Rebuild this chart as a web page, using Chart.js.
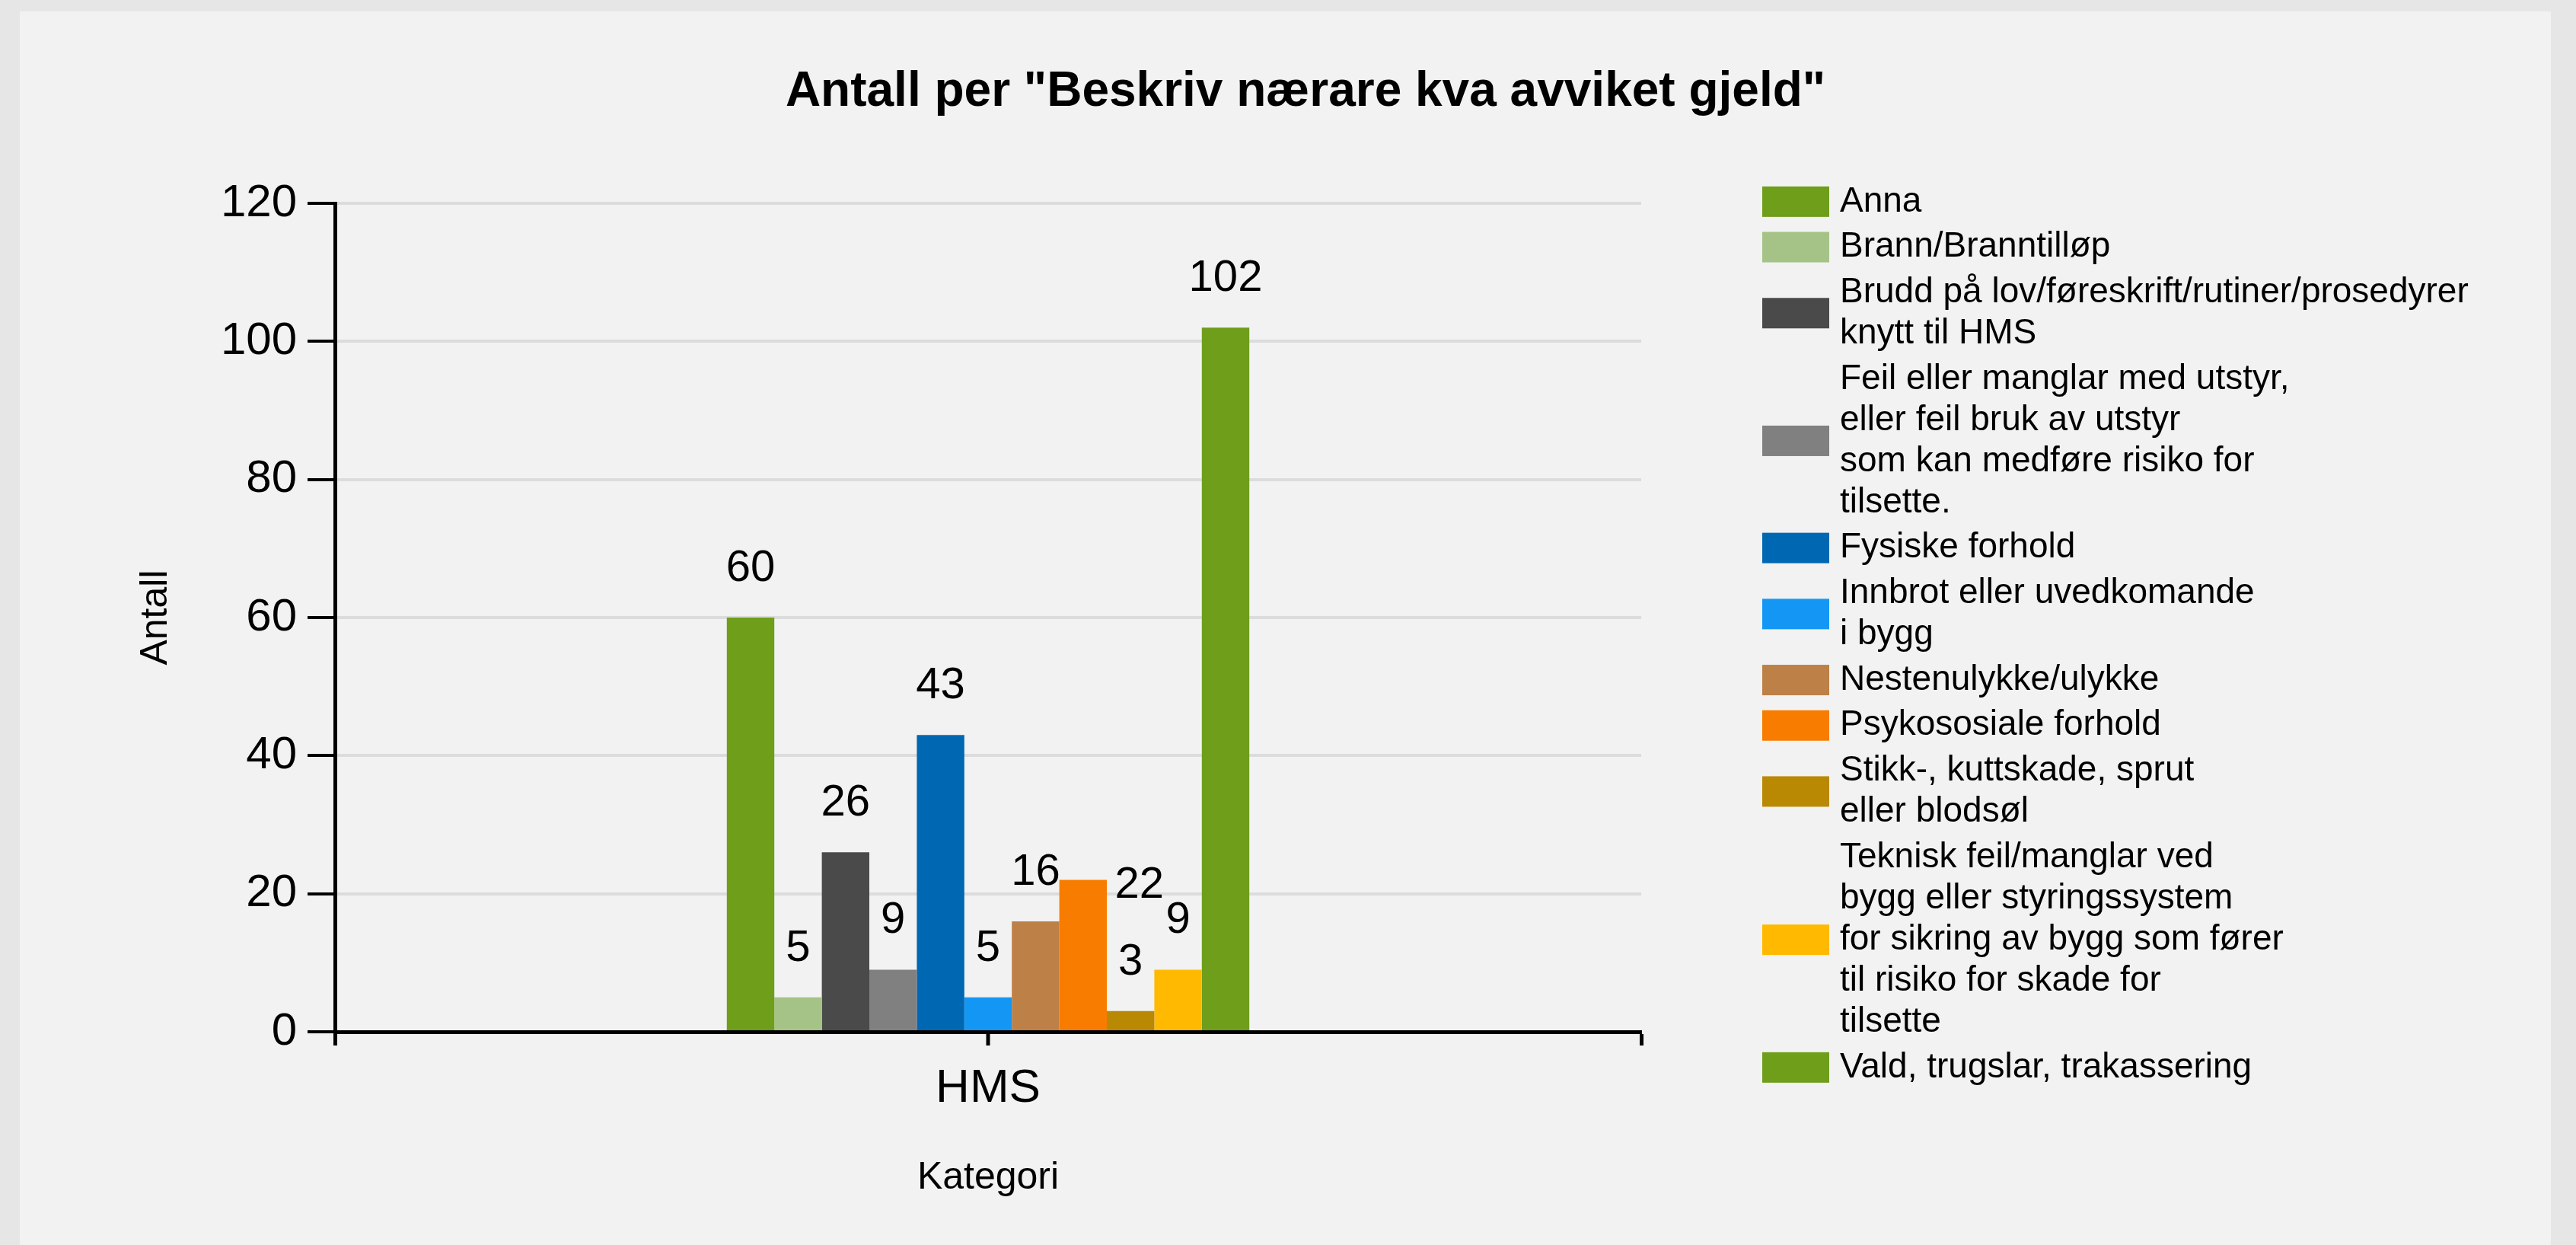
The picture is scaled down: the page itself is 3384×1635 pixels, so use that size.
<!DOCTYPE html>
<html>
<head>
<meta charset="utf-8">
<script src="https://cdn.jsdelivr.net/npm/chart.js@4.4.0/dist/chart.umd.min.js"></script>
<style>
  html, body { margin: 0; padding: 0; background: #e6e6e6; }
  #wrap { position: absolute; left: 26px; top: 15px; width: 3325px; height: 1620px; background: #f2f2f2; }
  canvas { display: block; }
</style>
</head>
<body>
<div id="wrap"><canvas id="avvikChart"></canvas></div>
<script>
const categories = ["HMS"];

const seriesNames = [
  "Anna",
  "Brann/Branntilløp",
  "Brudd på lov/føreskrift/rutiner/prosedyrer knytt til HMS",
  "Feil eller manglar med utstyr, eller feil bruk av utstyr som kan medføre risiko for tilsette.",
  "Fysiske forhold",
  "Innbrot eller uvedkomande i bygg",
  "Nestenulykke/ulykke",
  "Psykososiale forhold",
  "Stikk-, kuttskade, sprut eller blodsøl",
  "Teknisk feil/manglar ved bygg eller styringssystem for sikring av bygg som fører til risiko for skade for tilsette",
  "Vald, trugslar, trakassering"
];

const seriesValues = [60, 5, 26, 9, 43, 5, 16, 22, 3, 9, 102];

const seriesColors = [
  "#6e9e1a", "#a5c386", "#4a4a4a", "#808080", "#0068b3", "#1497f4",
  "#bd8046", "#f77c00", "#b98903", "#ffb900", "#6e9e1a"
];

const legendLines = [
  ["Anna"],
  ["Brann/Branntilløp"],
  ["Brudd på lov/føreskrift/rutiner/prosedyrer", "knytt til HMS"],
  ["Feil eller manglar med utstyr,", "eller feil bruk av utstyr", "som kan medføre risiko for", "tilsette."],
  ["Fysiske forhold"],
  ["Innbrot eller uvedkomande", "i bygg"],
  ["Nestenulykke/ulykke"],
  ["Psykososiale forhold"],
  ["Stikk-, kuttskade, sprut", "eller blodsøl"],
  ["Teknisk feil/manglar ved", "bygg eller styringssystem", "for sikring av bygg som fører", "til risiko for skade for", "tilsette"],
  ["Vald, trugslar, trakassering"]
];

const yMin = 0;
const yMax = 120;
const yStep = 20;

const FONT = '"Liberation Sans", Arial, sans-serif';

const chartTitlePlugin = {
  id: "chartTitle",
  afterDraw(chart, args, opts) {
    const { ctx } = chart;
    ctx.save();
    ctx.font = `bold ${opts.size}px ${FONT}`;
    ctx.fillStyle = "#000";
    ctx.textAlign = "center";
    ctx.textBaseline = "alphabetic";
    ctx.fillText(opts.text, opts.x, opts.y);
    ctx.restore();
  }
};

const sideLegendPlugin = {
  id: "sideLegend",
  afterDraw(chart, args, opts) {
    const { ctx } = chart;
    let y = opts.top;
    ctx.save();
    ctx.font = `${opts.size}px ${FONT}`;
    ctx.textAlign = "left";
    ctx.textBaseline = "middle";
    chart.data.datasets.forEach((ds, i) => {
      const lines = legendLines[i];
      const h = lines.length * opts.lineHeight + opts.gap;
      const cy = y + h / 2;
      ctx.fillStyle = ds.backgroundColor;
      ctx.fillRect(opts.boxX, cy - opts.boxH / 2, opts.boxW, opts.boxH);
      ctx.fillStyle = "#000";
      lines.forEach((line, j) => {
        ctx.fillText(line, opts.textX, cy + (j - (lines.length - 1) / 2) * opts.lineHeight);
      });
      y += h;
    });
    ctx.restore();
  }
};

const valueLabelPlugin = {
  id: "valueLabels",
  afterDatasetsDraw(chart, args, opts) {
    const { ctx, chartArea, scales } = chart;
    ctx.save();
    // centre tick under the category
    ctx.strokeStyle = "#000";
    ctx.lineWidth = 5;
    const cx = scales.x.getPixelForValue(0);
    ctx.beginPath();
    ctx.moveTo(cx, chartArea.bottom);
    ctx.lineTo(cx, chartArea.bottom + 18);
    ctx.stroke();

    ctx.font = `${opts.size}px ${FONT}`;
    ctx.fillStyle = "#000";
    ctx.textAlign = "center";
    ctx.textBaseline = "alphabetic";
    chart.data.datasets.forEach((ds, i) => {
      const meta = chart.getDatasetMeta(i);
      meta.data.forEach((bar, j) => {
        const shift = (opts.nudge && opts.nudge[i]) || [0, 0];
        ctx.fillText(String(ds.data[j]), bar.x + shift[0], bar.y - opts.gap + shift[1]);
      });
    });
    ctx.restore();
  }
};

const datasets = seriesNames.map((name, i) => ({
  label: name,
  data: [seriesValues[i]],
  backgroundColor: seriesColors[i],
  borderWidth: 0
}));

new Chart(document.getElementById("avvikChart"), {
  type: "bar",
  data: { labels: categories, datasets: datasets },
  plugins: [chartTitlePlugin, sideLegendPlugin, valueLabelPlugin],
  options: {
    responsive: true,
    maintainAspectRatio: false,
    animation: false,
    devicePixelRatio: 1,
    categoryPercentage: 0.4,
    barPercentage: 1.0,
    layout: { padding: { left: 100, right: 1195, top: 252, bottom: 0 } },
    plugins: {
      legend: { display: false },
      title: { display: false },
      tooltip: { enabled: false },
      chartTitle: { text: 'Antall per "Beskriv nærare kva avviket gjeld"', x: 1689, y: 124, size: 64 },
      sideLegend: { top: 220, boxX: 2289, boxW: 88, boxH: 40, textX: 2391, lineHeight: 54, gap: 5.7, size: 46 },
      valueLabels: { size: 58, gap: 48, nudge: { 7: [74, 71] } }
    },
    scales: {
      x: {
        afterFit(scale) { scale.height = 280; },
        grid: { offset: true, drawOnChartArea: false, color: "#000", tickColor: "#000", tickWidth: 5, tickLength: 18 },
        border: { display: true, color: "#000", width: 5 },
        ticks: { color: "#000", font: { family: FONT, size: 62 }, padding: 20 },
        title: { display: true, text: "Kategori", color: "#000", font: { family: FONT, size: 50 }, padding: { top: 0, bottom: 58 } }
      },
      y: {
        min: yMin,
        max: yMax,
        afterFit(scale) { scale.width = 314; },
        ticks: { stepSize: yStep, color: "#000", font: { family: FONT, size: 60 }, padding: 14 },
        grid: { color: "#dcdcdc", lineWidth: 4, tickColor: "#000", tickWidth: 4, tickLength: 36 },
        border: { display: true, color: "#000", width: 5 },
        title: { display: true, text: "Antall", color: "#000", font: { family: FONT, size: 50 }, padding: { top: 49, bottom: 0 } }
      }
    }
  }
});
</script>
</body>
</html>
